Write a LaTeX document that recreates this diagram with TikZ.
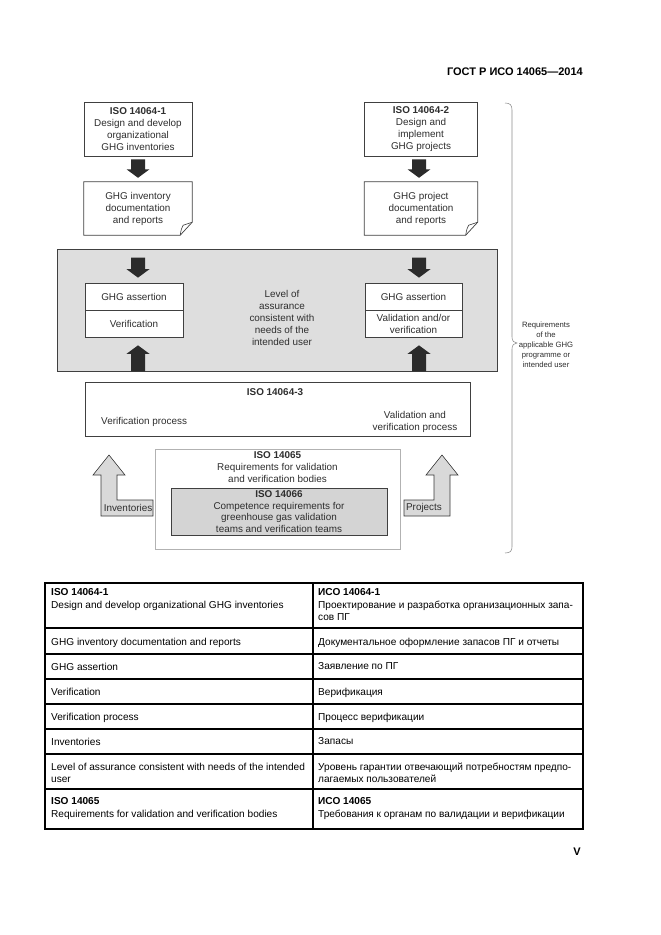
\documentclass[tikz,border=0pt]{standalone}
\usepackage{fontspec}
\setmainfont{Liberation Sans}
\usetikzlibrary{calc}
\definecolor{ink}{gray}{0.18}
\definecolor{edge}{gray}{0.25}
\definecolor{zonefill}{gray}{0.87}
\definecolor{innerfill}{gray}{0.83}
\definecolor{darkarrow}{gray}{0.17}
\definecolor{lightarrow}{gray}{0.85}
\definecolor{bracecol}{gray}{0.55}
\newcommand\dfont{\fontsize{9.9}{12}\selectfont}
\newcommand\tfont{\fontsize{10.1}{12.4}\selectfont}
\newcommand\bfont{\fontsize{7.7}{10}\selectfont}
% vertical block arrows: #1 start point, #2 tip point
\newcommand\blockdown[2]{%
  \fill[darkarrow] let \p1=#1, \p2=#2 in
    (\x1-7pt,\y1) -- (\x1+7pt,\y1) -- (\x1+7pt,\y2+8.5pt) -- (\x1+11.5pt,\y2+8.5pt)
    -- (\x1,\y2) -- (\x1-11.5pt,\y2+8.5pt) -- (\x1-7pt,\y2+8.5pt) -- cycle;}
\newcommand\blockup[2]{%
  \fill[darkarrow] let \p1=#1, \p2=#2 in
    (\x1-7pt,\y1) -- (\x1+7pt,\y1) -- (\x1+7pt,\y2-8.5pt) -- (\x1+11.5pt,\y2-8.5pt)
    -- (\x1,\y2) -- (\x1-11.5pt,\y2-8.5pt) -- (\x1-7pt,\y2-8.5pt) -- cycle;}
\begin{document}
\begin{tikzpicture}[x=1pt,y=-1pt,
  box/.style={draw=edge, line width=0.7pt, fill=white, align=center, font=\dfont,
    text=ink, inner sep=0pt},
  docnode/.style={align=center, font=\dfont, text=ink, inner sep=0pt},
  lbl/.style={align=center, font=\dfont, text=ink, inner sep=0pt},
  cell/.style={anchor=north west, align=left, font=\tfont, text=black, inner sep=0pt},
  tline/.style={line width=1.3pt, black},
  hollow/.style={fill=lightarrow, draw=gray!45!black, line width=0.6pt, line join=miter}]
\useasboundingbox (0,0) rectangle (661,935);
\fill[white] (0,0) rectangle (661,935);

% header
\node[anchor=east, font=\fontsize{11}{13}\selectfont\bfseries, inner sep=0pt] (hdr) at (583,72) {ГОСТ Р ИСО 14065—2014};

% top boxes
\node[box, minimum width=108pt, minimum height=54pt] (b1) at (138,129)
  {\textbf{ISO 14064-1}\\Design and develop\\organizational\\GHG inventories};
\node[box, minimum width=113pt, minimum height=54pt] (b2) at (421,129)
  {\textbf{ISO 14064-2}\\Design and\\implement\\GHG projects};

% document boxes
\node[docnode, minimum width=108pt, minimum height=53pt] (d1) at (138,208.5)
  {GHG inventory\\documentation\\and reports};
\node[docnode, minimum width=113pt, minimum height=53pt] (d2) at (421,208.5)
  {GHG project\\documentation\\and reports};
\foreach \d in {d1,d2}{
  \draw[edge, line width=0.7pt, line join=miter] (\d.north west) -- (\d.north east)
    -- ([yshift=13pt]\d.south east) -- ([xshift=-12pt]\d.south east) -- (\d.south west) -- cycle;
  \draw[edge, line width=0.6pt] ([xshift=-12pt]\d.south east) .. controls ([xshift=-11pt,yshift=6pt]\d.south east) .. ([xshift=-9pt,yshift=10pt]\d.south east) -- ([yshift=13pt]\d.south east);
}

\blockdown{([yshift=-3pt]b1.south)}{([yshift=4pt]d1.north)}
\blockdown{([xshift=-2pt,yshift=-3pt]b2.south)}{([xshift=-2pt,yshift=4pt]d2.north)}

% shaded zone
\node[draw=edge, line width=0.7pt, fill=zonefill, minimum width=440pt, minimum height=122pt, inner sep=0pt] (zone) at (277,310) {};

\node[box, minimum width=98pt, minimum height=27pt] (ga1) at (134,296.5) {GHG assertion};
\node[box, minimum width=98pt, minimum height=27pt] (ve1) at (134,323.5) {Verification};
\node[box, minimum width=97pt, minimum height=27pt] (ga2) at (413.5,296.5) {GHG assertion};
\node[box, minimum width=97pt, minimum height=27pt] (ve2) at (413.5,323.5) {Validation and/or\\verification};

\node[lbl] (loa) at (282,318) {Level of\\assurance\\consistent with\\needs of the\\intended user};

\blockdown{([yshift=-9pt]d1.south |- zone.north)}{([yshift=5pt]d1.south |- ga1.north)}
\blockup{(d1.south |- zone.south)}{([yshift=-8pt]d1.south |- ve1.south)}
\blockdown{([xshift=-2pt,yshift=-9pt]d2.south |- zone.north)}{([xshift=-2pt,yshift=5pt]d2.south |- ga2.north)}
\blockup{([xshift=-2pt]d2.south |- zone.south)}{([xshift=-2pt,yshift=-8pt]d2.south |- ve2.south)}

% ISO 14064-3
\node[box, minimum width=385pt, minimum height=54pt] (p3) at (277.5,409) {};
\node[lbl, font=\dfont\bfseries] (p3t) at (275,392) {ISO 14064-3};
\node[lbl, anchor=west] (vp) at (101,422) {Verification process};
\node[lbl] (vvp) at (415,421.5) {Validation and\\verification process};

% ISO 14065 / 14066
\node[draw=gray!60, line width=0.7pt, fill=white, minimum width=245pt, minimum height=100pt, inner sep=0pt] (b65) at (277.5,499) {};
\node[lbl] (b65t) at (277.5,467) {\textbf{ISO 14065}\\Requirements for validation\\and verification bodies};
\node[draw=edge, line width=0.7pt, fill=innerfill, minimum width=216pt, minimum height=47pt, inner sep=0pt,
  align=center, font=\fontsize{9.9}{11.6}\selectfont, text=ink] (b66) at (279,511.5)
  {\textbf{ISO 14066}\\Competence requirements for\\greenhouse gas validation\\teams and verification teams};

% hollow arrows
\draw[hollow] (101,516) -- (101,475) -- (93,475) -- (109,455) -- (125,475) -- (117,475)
  -- (117,500) -- (153,500) -- (153,516) -- cycle;
\node[lbl] (inv) at (128,508) {Inventories};
\draw[hollow] (450,516) -- (450,475) -- (458,475) -- (442,455) -- (426,475) -- (434,475)
  -- (434,500) -- (404,500) -- (404,516) -- cycle;
\node[lbl] (prj) at (424,508) {Projects};

% brace
\draw[bracecol, line width=0.55pt] (505,103) .. controls (510,103) and (512,105) .. (512,110)
  -- (512,337) .. controls (512,341) and (514,343) .. (517,343)
  .. controls (514,343) and (512,345) .. (512,349)
  -- (512,547) .. controls (512,551) and (510,553) .. (505,553);
\node[lbl, font=\bfont] (req) at (546,345) {Requirements\\of the\\applicable GHG\\programme or\\intended user};

% table
\draw[tline] (45,583) rectangle (583,829);
\draw[tline] (313,583) -- (313,829);
\foreach \yy in {628,654,679,704,729,754,789}{\draw[tline] (45,\yy) -- (583,\yy);}

\node[cell] (l1) at (51,588.6) {\textbf{ISO 14064-1}\\Design and develop organizational GHG inventories};
\node[cell] (r1) at (318,588.6) {\textbf{ИСО 14064-1}\\Проектирование и разработка организационных запа-\\сов ПГ};
\node[cell] (l2) at (51,637.6) {GHG inventory documentation and reports};
\node[cell] (r2) at (318,637.6) {Документальное оформление запасов ПГ и отчеты};
\node[cell] (l3) at (51,662.6) {GHG assertion};
\node[cell] (r3) at (318,662.6) {Заявление по ПГ};
\node[cell] (l4) at (51,687.6) {Verification};
\node[cell] (r4) at (318,687.6) {Верификация};
\node[cell] (l5) at (51,712.6) {Verification process};
\node[cell] (r5) at (318,712.6) {Процесс верификации};
\node[cell] (l6) at (51,737.6) {Inventories};
\node[cell] (r6) at (318,737.6) {Запасы};
\node[cell] (l7) at (51,762.6) {Level of assurance consistent with needs of the intended\\user};
\node[cell] (r7) at (318,762.6) {Уровень гарантии отвечающий потребностям предпо-\\лагаемых пользователей};
\node[cell] (l8) at (51,797.6) {\textbf{ISO 14065}\\Requirements for validation and verification bodies};
\node[cell] (r8) at (318,797.6) {\textbf{ИСО 14065}\\Требования к органам по валидации и верификации};

% page number
\node[font=\fontsize{11}{13}\selectfont\bfseries, inner sep=0pt] (pg) at (577,852) {V};
\end{tikzpicture}
\end{document}
